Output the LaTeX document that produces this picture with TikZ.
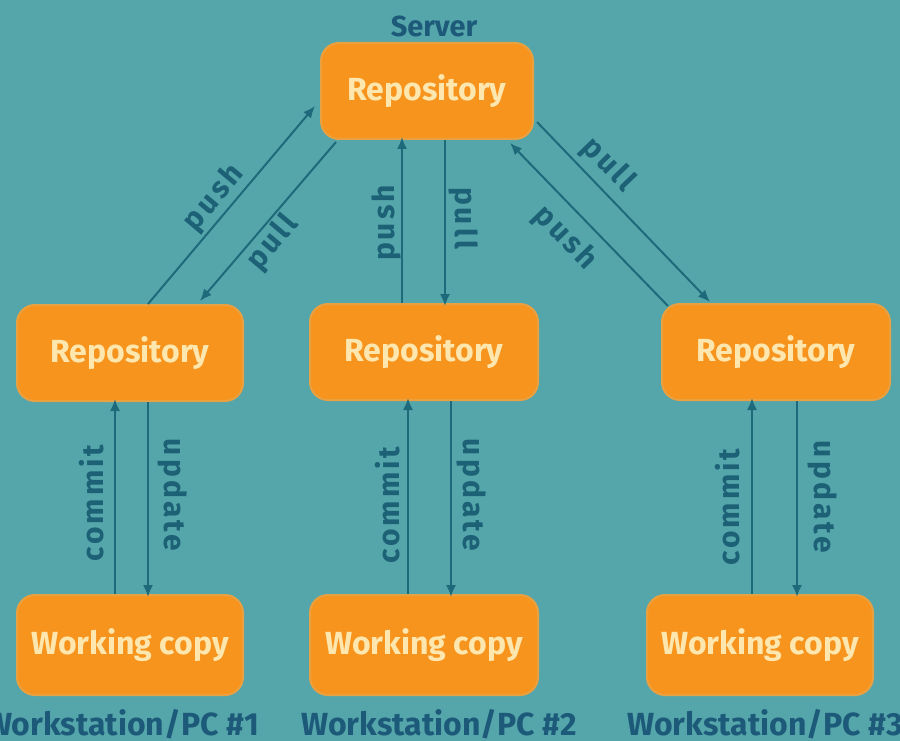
\documentclass[tikz,border=0pt]{standalone}
\usepackage{fontspec}
\setmainfont{Fira Sans}
\usetikzlibrary{arrows.meta}
\definecolor{bgteal}{HTML}{55A6AA}
\definecolor{boxorange}{HTML}{F7941E}
\definecolor{boxedge}{HTML}{E9A040}
\definecolor{boxtext}{HTML}{FDE7AE}
\definecolor{linecol}{HTML}{1E6A7A}
\definecolor{labcol}{HTML}{1C6176}
\definecolor{pccol}{HTML}{1D5A7A}
\newfontfamily\labfont[LetterSpace=10]{Fira Sans}
\begin{document}
\begin{tikzpicture}[x=1pt,y=-1pt,
  box/.style={draw=boxedge, line width=2pt, fill=boxorange, rounded corners=18pt,
    text=boxtext, font=\fontsize{32}{36}\selectfont\bfseries, inner sep=0pt},
  repobox/.style={box, minimum height=96pt},
  conn/.style={draw=linecol, line width=2pt, -{Latex[length=12pt,width=10pt]}},
  lab/.style={text=labcol, font=\labfont\fontsize{30}{32}\selectfont\bfseries, inner sep=0pt},
  pc/.style={text=pccol, font=\fontsize{32}{36}\selectfont\bfseries, inner sep=0pt}]
\fill[bgteal] (0,0) rectangle (900,741);
\useasboundingbox (0,0) rectangle (900,741);

% nodes
\node[pc, font=\fontsize{29}{32}\selectfont\bfseries] (srvlab) at (434,26) {Server};
\node[repobox, minimum width=212pt] (srv) at (427,91) {Repository};
\node[repobox, minimum width=226pt] (lrepo) at (130,353) {Repository};
\node[repobox, minimum width=228pt] (mrepo) at (424,352) {Repository};
\node[repobox, minimum width=228pt] (rrepo) at (776,352) {Repository};
\node[box, minimum width=226pt, minimum height=100pt] (lwc) at (130,645) {Working copy};
\node[box, minimum width=228pt, minimum height=100pt] (mwc) at (424,645) {Working copy};
\node[box, minimum width=226pt, minimum height=100pt] (rwc) at (760,645) {Working copy};
\node[pc] (pc1) at (122,724) {Workstation/PC \#1};
\node[pc] (pc2) at (439,724) {Workstation/PC \#2};
\node[pc] (pc3) at (765,724) {Workstation/PC \#3};

% free ends of the diagonal connectors
\coordinate (lpushS) at (148,304);
\coordinate (lpushE) at (315,106);
\coordinate (lpullS) at (336,142);
\coordinate (lpullE) at (200,301);
\coordinate (rpullS) at (537,122);
\coordinate (rpullE) at (710,302);
\coordinate (rpushS) at (668,306);
\coordinate (rpushE) at (510,143);

% server <-> local repositories
\draw[conn] (lpushS) -- (lpushE);
\draw[conn] (lpullS) -- (lpullE);
\draw[conn] (mrepo.north -| 402,0) -- ([yshift=3pt]srv.south -| 402,0);
\draw[conn] (srv.south -| 445,0) -- ([yshift=-3pt]mrepo.north -| 445,0);
\draw[conn] (rpullS) -- (rpullE);
\draw[conn] (rpushS) -- (rpushE);

% repositories <-> working copies
\draw[conn] (lwc.north -| 115,0) -- ([yshift=3pt]lrepo.south -| 115,0);
\draw[conn] (lrepo.south -| 148,0) -- ([yshift=-3pt]lwc.north -| 148,0);
\draw[conn] (mwc.north -| 408,0) -- ([yshift=3pt]mrepo.south -| 408,0);
\draw[conn] (mrepo.south -| 451,0) -- ([yshift=-3pt]mwc.north -| 451,0);
\draw[conn] (rwc.north -| 752,0) -- ([yshift=3pt]rrepo.south -| 752,0);
\draw[conn] (rrepo.south -| 797,0) -- ([yshift=-3pt]rwc.north -| 797,0);

% labels
\node[lab, rotate=50] (l1) at (214,198) {push};
\node[lab, rotate=50] (l2) at (273,243) {pull};
\node[lab, rotate=90] (l3) at (386,223) {push};
\node[lab, rotate=-90] (l4) at (464,218) {pull};
\node[lab, rotate=-46] (l5) at (608,165) {pull};
\node[lab, rotate=-46] (l6) at (565,238) {push};
\node[lab, rotate=90] (l7) at (92,503) {commit};
\node[lab, rotate=-90] (l8) at (173,495) {update};
\node[lab, rotate=90] (l9) at (388,505) {commit};
\node[lab, rotate=-90] (l10) at (472,495) {update};
\node[lab, rotate=90] (l11) at (728,507) {commit};
\node[lab, rotate=-90] (l12) at (823,497) {update};
\end{tikzpicture}
\end{document}
